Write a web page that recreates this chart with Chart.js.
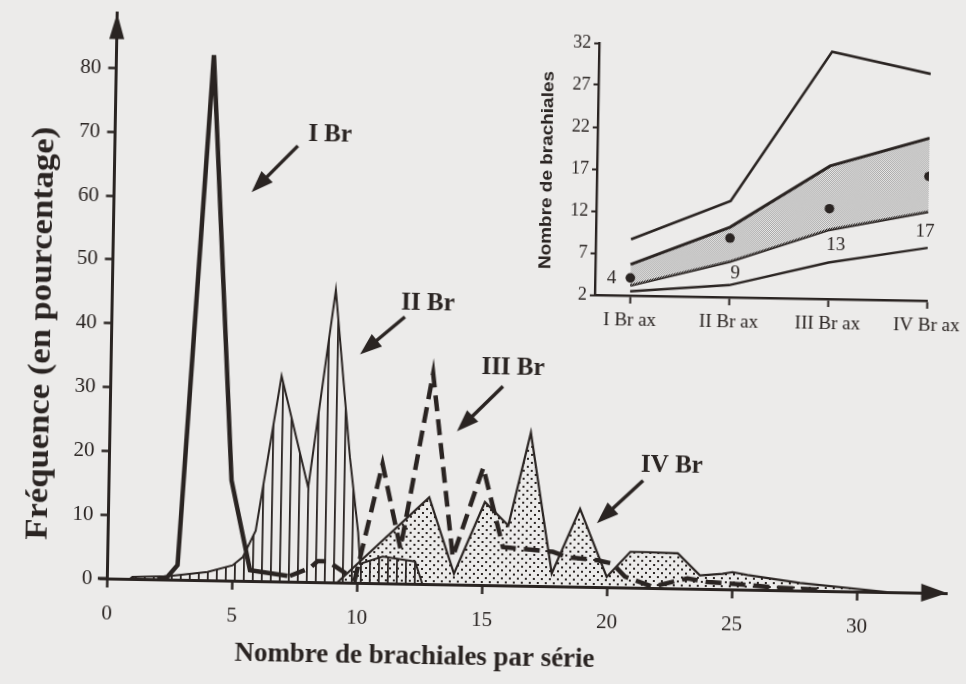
<!DOCTYPE html>
<html lang="fr">
<head>
<meta charset="UTF-8">
<title>Nombre de brachiales par série</title>
<script src="https://cdn.jsdelivr.net/npm/chart.js"></script>
<style>
    html, body { margin: 0; padding: 0; background: #ecebea; overflow: hidden; }
    /* the scan is a little tilted, so the whole sheet is turned by one degree */
    #sheet { position: relative; width: 966px; height: 684px; transform: rotate(1deg); transform-origin: 483px 342px; }
    #main { position: absolute; left: 0; top: 0; }
    #inset { position: absolute; left: 520px; top: 20px; }
</style>
</head>
<body>
<div id="sheet">
    <canvas id="main" width="966" height="684"></canvas>
    <canvas id="inset" width="446" height="330"></canvas>
</div>
<script>
const ink = '#2a2422';

// main chart: frequency (%) per number of brachials in a series
const xTicks = [0, 5, 10, 15, 20, 25, 30];
const yTicks = [0, 10, 20, 30, 40, 50, 60, 70, 80];

const iBrX = [2.0, 2.4, 2.8, 3.9, 4.9, 5.7, 7.2];
const iBrY = [0.1, 0.4, 2.3, 82.3, 15.7, 1.7, 0.9];

const iiBrX = [0.9, 1.0, 2.4, 4.0, 5.0, 5.4, 5.9, 6.83, 7.97, 8.94, 9.62, 10.0, 10.1, 11.0, 12.3, 12.6];
const iiBrY = [0, 0.3, 0.5, 1.3, 2.4, 3.7, 7.9, 32.2, 14.8, 45.8, 19.6, 7.9, 3.0, 4.2, 3.5, 0];

const iiiBrX = [7.3, 8.1, 8.4, 8.8, 9.9, 10.93, 11.7, 12.89, 13.8, 14.96, 15.8, 16.5, 17.8, 18.4, 19.6, 20.2, 20.7, 21.8, 23.2, 24.0, 25.4, 26.7, 28.5];
const iiiBrY = [0.9, 2.2, 3.3, 3.3, 0.5, 18.7, 5.5, 33.0, 4.3, 18.4, 6.0, 5.8, 5.4, 4.6, 4.2, 3.7, 1.7, 0.2, 1.6, 1.1, 0.8, 0.4, 0.2];

const ivBrX = [9.2, 12.82, 13.86, 15.05, 16.0, 16.84, 17.77, 18.86, 19.97, 20.9, 21.55, 22.8, 23.7, 24.6, 25.0, 25.6, 27.7, 31.2];
const ivBrY = [0, 13.6, 1.7, 13.0, 9.4, 24.0, 2.0, 12.2, 1.6, 5.6, 5.6, 5.5, 2.1, 2.4, 2.7, 2.3, 1.2, 0];

// callout labels: text position, arrow start, arrow tip (data units)
const calloutText = ['I Br', 'II Br', 'III Br', 'IV Br'];
const calloutAt = [[8.6, 70.1], [12.63, 43.9], [16.08, 34.0], [22.5, 19.2]];
const arrowFrom = [[7.32, 68.3], [11.72, 41.8], [15.69, 31.2], [21.36, 16.8]];
const arrowTo = [[5.5, 60.9], [9.95, 35.8], [13.88, 24.0], [19.54, 10.0]];

// inset: number of brachials per axil
const insetCats = ['I Br ax', 'II Br ax', 'III Br ax', 'IV Br ax'];
const insetTicks = [2, 7, 12, 17, 22, 27, 32];
const maxBr = [8.7, 13.45, 31.45, 29.0];
const upperBr = [5.7, 10.35, 17.85, 21.35];
const lowerBr = [3.2, 6.25, 10.25, 12.6];
const minBr = [2.5, 3.45, 6.35, 8.3];
const meanBr = [4.1, 9.05, 12.75, 16.8];
const modeBr = ['4', '9', '13', '17'];
const modeAt = [[-0.19, 4.05], [1.06, 4.9], [2.07, 8.45], [2.97, 10.2]];

function pts(xs, ys) {
    return xs.map((x, i) => ({ x: x, y: ys[i] }));
}

function makePattern(w, h, draw) {
    const c = document.createElement('canvas');
    c.width = w; c.height = h;
    const g = c.getContext('2d');
    draw(g);
    return g.createPattern(c, 'repeat');
}

const hatch = makePattern(9, 4, g => { g.fillStyle = ink; g.fillRect(4, 0, 1.8, 4); });
const dots = makePattern(8, 8, g => { g.fillStyle = ink; g.fillRect(1, 1, 2, 2); g.fillRect(5, 5, 2, 2); });
const stipple = makePattern(2, 2, g => { g.fillStyle = '#a4a4a4'; g.fillRect(0, 0, 1, 1); g.fillRect(1, 1, 1, 1); });

function head(ctx, tx, ty, ang, len, half) {
    ctx.save();
    ctx.translate(tx, ty);
    ctx.rotate(ang);
    ctx.beginPath();
    ctx.moveTo(0, 0);
    ctx.lineTo(-len, -half);
    ctx.lineTo(-len, half);
    ctx.closePath();
    ctx.fill();
    ctx.restore();
}

function fitText(ctx, text, cx, cy, width, font, ang) {
    ctx.save();
    ctx.font = font;
    const w = ctx.measureText(text).width;
    ctx.translate(cx, cy);
    ctx.rotate(ang);
    ctx.scale(width / w, 1);
    ctx.textAlign = 'center';
    ctx.textBaseline = 'middle';
    ctx.fillText(text, 0, 0);
    ctx.restore();
}

const mainDecor = {
    id: 'mainDecor',
    afterDraw(chart) {
        const { ctx, chartArea: a, scales: { x, y } } = chart;
        ctx.save();
        ctx.fillStyle = ink;
        ctx.strokeStyle = ink;
        // small stub of the x axis left of the origin, and the arrow heads
        ctx.lineWidth = 3;
        ctx.beginPath();
        ctx.moveTo(x.getPixelForValue(-0.38), a.bottom);
        ctx.lineTo(a.left, a.bottom);
        ctx.stroke();
        head(ctx, a.right, a.bottom, 0, 26, 9);
        head(ctx, a.left, a.top, -Math.PI / 2, 26, 7.5);

        ctx.font = 'bold 25px "Liberation Serif", serif';
        ctx.textAlign = 'center';
        ctx.textBaseline = 'middle';
        calloutText.forEach((t, i) => {
            ctx.fillText(t, x.getPixelForValue(calloutAt[i][0]), y.getPixelForValue(calloutAt[i][1]));
            const x1 = x.getPixelForValue(arrowFrom[i][0]), y1 = y.getPixelForValue(arrowFrom[i][1]);
            const x2 = x.getPixelForValue(arrowTo[i][0]), y2 = y.getPixelForValue(arrowTo[i][1]);
            const ang = Math.atan2(y2 - y1, x2 - x1);
            ctx.lineWidth = 3.5;
            ctx.beginPath();
            ctx.moveTo(x1, y1);
            ctx.lineTo(x2 - 18 * Math.cos(ang), y2 - 18 * Math.sin(ang));
            ctx.stroke();
            head(ctx, x2, y2, ang, 22, 8);
        });

        fitText(ctx, 'Fréquence (en pourcentage)', 42, 341, 413, 'bold 32px "Liberation Serif", serif', -Math.PI / 2);
        fitText(ctx, 'Nombre de brachiales par série', 420, 658, 360, 'bold 28px "Liberation Serif", serif', 0);
        ctx.restore();
    }
};

new Chart(document.getElementById('main'), {
    type: 'line',
    data: {
        datasets: [
            { label: 'I Br', data: pts(iBrX, iBrY), borderColor: ink, borderWidth: 4.5, fill: false, clip: false },
            { label: 'III Br', data: pts(iiiBrX, iiiBrY), borderColor: ink, borderWidth: 4.5, borderDash: [16, 8], fill: false, clip: false },
            { label: 'II Br', data: pts(iiBrX, iiBrY), borderColor: ink, borderWidth: 2, fill: 'origin', backgroundColor: hatch, clip: false },
            { label: 'IV Br', data: pts(ivBrX, ivBrY), borderColor: ink, borderWidth: 2.2, fill: 'origin', backgroundColor: dots, clip: false }
        ]
    },
    options: {
        responsive: false,
        animation: false,
        layout: { padding: { left: 0, right: 14.5, top: 16, bottom: 0 } },
        elements: { point: { radius: 0 }, line: { tension: 0, borderJoinStyle: 'miter' } },
        plugins: { legend: { display: false }, tooltip: { enabled: false } },
        scales: {
            x: {
                type: 'linear', min: 0, max: 33.6,
                afterFit: s => { s.height = 99; },
                afterBuildTicks: s => { s.ticks = xTicks.map(v => ({ value: v })); },
                grid: { drawOnChartArea: false, tickLength: 9, tickWidth: 2.5, color: ink },
                border: { display: true, color: ink, width: 3 },
                ticks: { color: ink, font: { family: '"Liberation Serif", serif', size: 21 }, padding: 14, maxRotation: 0, autoSkip: false }
            },
            y: {
                min: 0, max: 88.6,
                afterFit: s => { s.width = 111.5; },
                afterBuildTicks: s => { s.ticks = yTicks.map(v => ({ value: v })); },
                grid: { drawOnChartArea: false, tickLength: 8, tickWidth: 2.5, color: ink },
                border: { display: true, color: ink, width: 3 },
                ticks: { color: ink, font: { family: '"Liberation Serif", serif', size: 21 }, padding: 7 }
            }
        }
    },
    plugins: [mainDecor]
});

const insetDecor = {
    id: 'insetDecor',
    afterDraw(chart) {
        const { ctx, scales: { x, y } } = chart;
        ctx.save();
        ctx.fillStyle = ink;
        ctx.font = '19px "Liberation Serif", serif';
        ctx.textAlign = 'center';
        ctx.textBaseline = 'middle';
        modeBr.forEach((t, i) => {
            ctx.fillText(t, x.getPixelForValue(modeAt[i][0]), y.getPixelForValue(modeAt[i][1]));
        });
        fitText(ctx, 'Nombre de brachiales', 25, 149, 198, 'bold 16px "Liberation Sans", sans-serif', -Math.PI / 2);
        ctx.restore();
    }
};

const catPts = vals => vals.map((v, i) => ({ x: i, y: v }));

new Chart(document.getElementById('inset'), {
    type: 'line',
    data: {
        datasets: [
            // means first so the dots sit on top of the shaded band
            { data: catPts(meanBr), showLine: false, pointRadius: 4.8, pointBackgroundColor: ink, pointBorderWidth: 0 },
            { data: catPts(maxBr), borderColor: ink, borderWidth: 2.6, fill: false },
            { data: catPts(upperBr), borderColor: ink, borderWidth: 3, fill: '+1', backgroundColor: stipple },
            { data: catPts(lowerBr), borderColor: ink, borderWidth: 3, fill: false },
            { data: catPts(minBr), borderColor: ink, borderWidth: 2.4, fill: false }
        ]
    },
    options: {
        responsive: false,
        animation: false,
        layout: { padding: { left: 0, right: 40, top: 21, bottom: 0 } },
        elements: { point: { radius: 0 }, line: { tension: 0 } },
        plugins: { legend: { display: false }, tooltip: { enabled: false } },
        scales: {
            x: {
                type: 'linear', min: -0.356, max: 3,
                afterFit: s => { s.height = 57; },
                afterBuildTicks: s => { s.ticks = insetCats.map((c, i) => ({ value: i })); },
                grid: { drawOnChartArea: false, tickLength: 8, tickWidth: 2, color: ink },
                border: { display: true, color: ink, width: 2.4 },
                ticks: { color: ink, font: { family: '"Liberation Serif", serif', size: 19 }, padding: 6, maxRotation: 0, autoSkip: false,
                    callback: v => insetCats[v] }
            },
            y: {
                min: 2, max: 32,
                afterFit: s => { s.width = 74; },
                afterBuildTicks: s => { s.ticks = insetTicks.map(v => ({ value: v })); },
                grid: { drawOnChartArea: false, tickLength: 5, tickWidth: 2, color: ink },
                border: { display: true, color: ink, width: 2.4 },
                ticks: { color: ink, font: { family: '"Liberation Serif", serif', size: 18 }, padding: 3 }
            }
        }
    },
    plugins: [insetDecor]
});
</script>
</body>
</html>
